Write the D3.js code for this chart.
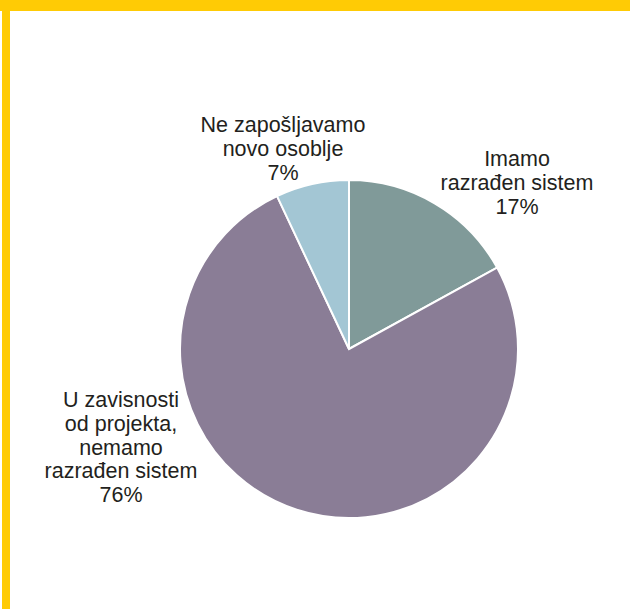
<!DOCTYPE html>
<html><head><meta charset="utf-8">
<script src="https://cdn.jsdelivr.net/npm/d3@7"></script>
<style>html,body{margin:0;padding:0;background:#fff;}</style>
</head><body>
<svg id="c" width="630" height="609"></svg>
<script>
const categories = ["Imamo razrađen sistem", "U zavisnosti od projekta, nemamo razrađen sistem", "Ne zapošljavamo novo osoblje"];
const values = [17, 76, 7];
const labelLines = [
  ["Imamo", "razrađen sistem", "17%"],
  ["U zavisnosti", "od projekta,", "nemamo", "razrađen sistem", "76%"],
  ["Ne zapošljavamo", "novo osoblje", "7%"]
];
const colors = ["#809a99", "#8a7d96", "#a3c6d4"];

const svg = d3.select("#c");
// yellow frame
svg.append("rect").attr("x", 0).attr("y", 0).attr("width", 630).attr("height", 11).attr("fill", "#ffcb05");
svg.append("rect").attr("x", 2).attr("y", 0).attr("width", 8).attr("height", 609).attr("fill", "#ffcb05");

const cx = 349, cy = 349, r = 169;
const pie = d3.pie().sort(null).value(d => d)(values);
const arc = d3.arc().innerRadius(0).outerRadius(r);
const g = svg.append("g").attr("transform", `translate(${cx},${cy})`);
g.selectAll("path").data(pie).join("path")
  .attr("d", arc)
  .attr("fill", (d, i) => colors[i])
  .attr("stroke", "#fff").attr("stroke-width", 2).attr("stroke-linejoin", "miter");

const labelPos = [[517, 166], [121, 407], [283, 132]];
const lh = 23.8;
labelLines.forEach((lines, i) => {
  const t = svg.append("text")
    .attr("text-anchor", "middle")
    .attr("font-family", "Liberation Sans, Arial, Helvetica, sans-serif")
    .attr("font-size", 21.5)
    .attr("fill", "#231f20");
  lines.forEach((ln, j) => {
    t.append("tspan").attr("x", labelPos[i][0]).attr("y", labelPos[i][1] + j * lh).text(ln);
  });
});
</script>
</body></html>
